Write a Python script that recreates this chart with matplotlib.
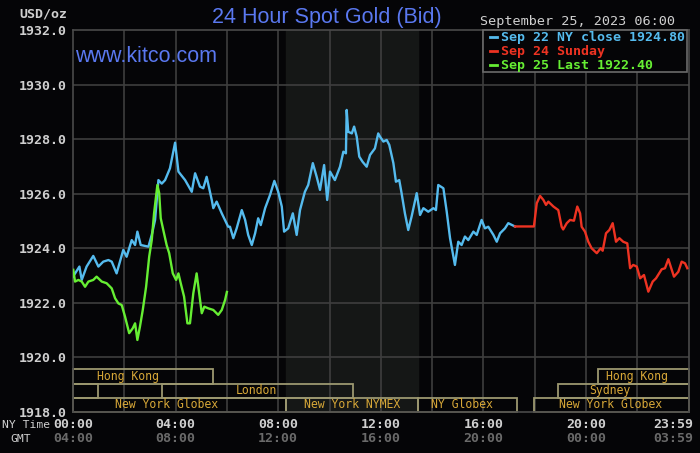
import matplotlib
matplotlib.use("Agg")
import matplotlib.pyplot as plt
from matplotlib.patches import Rectangle
from matplotlib.lines import Line2D
from matplotlib.transforms import blended_transform_factory

# ---- data (hours NY time, price USD/oz) ----
blue_t = [0.0, 0.25, 0.34, 0.53, 0.79, 0.99, 1.18, 1.38, 1.51, 1.70, 1.96, 2.09, 2.29, 2.42,
          2.51, 2.64, 2.94, 3.07, 3.20, 3.33, 3.46, 3.59, 3.78, 3.98, 4.11, 4.37, 4.63, 4.76,
          4.95, 5.08, 5.21, 5.41, 5.47, 5.60, 5.80, 6.05, 6.12, 6.25, 6.38, 6.58, 6.71, 6.83,
          6.97, 7.10, 7.22, 7.32, 7.49, 7.68, 7.85, 8.00, 8.14, 8.23, 8.39, 8.57, 8.72, 8.85,
          9.04, 9.17, 9.35, 9.50, 9.63, 9.79, 9.91, 10.02, 10.21, 10.41, 10.54, 10.64, 10.67,
          10.73, 10.87, 10.96, 11.06, 11.16, 11.29, 11.45, 11.58, 11.77, 11.90, 11.97, 12.10,
          12.23, 12.33, 12.49, 12.59, 12.72, 12.81, 12.94, 13.07, 13.20, 13.40, 13.53, 13.66,
          13.85, 14.05, 14.15, 14.24, 14.44, 14.57, 14.70, 14.89, 15.02, 15.15, 15.28, 15.41,
          15.61, 15.74, 15.93, 16.06, 16.19, 16.39, 16.52, 16.65, 16.84, 16.97, 17.23]
blue_p = [1922.96, 1923.33, 1922.84, 1923.33, 1923.72, 1923.33, 1923.51, 1923.57, 1923.51,
          1923.08, 1923.94, 1923.69, 1924.30, 1924.12, 1924.61, 1924.12, 1924.06, 1924.49,
          1925.04, 1926.50, 1926.37, 1926.50, 1926.93, 1927.87, 1926.81, 1926.50, 1926.07,
          1926.75, 1926.26, 1926.20, 1926.62, 1925.77, 1925.47, 1925.71, 1925.28, 1924.79,
          1924.79, 1924.37, 1924.73, 1925.40, 1925.04, 1924.49, 1924.12, 1924.55, 1925.10,
          1924.85, 1925.47, 1925.95, 1926.47, 1926.07, 1925.53, 1924.61, 1924.73, 1925.28,
          1924.49, 1925.40, 1926.07, 1926.32, 1927.12, 1926.62, 1926.14, 1927.05, 1925.77,
          1926.81, 1926.50, 1926.99, 1927.54, 1927.48, 1929.07, 1928.27, 1928.21, 1928.46,
          1928.09, 1927.36, 1927.17, 1926.99, 1927.42, 1927.66, 1928.21, 1928.09, 1927.91,
          1927.97, 1927.79, 1927.12, 1926.44, 1926.50, 1926.02, 1925.28, 1924.67, 1925.16,
          1926.02, 1925.22, 1925.47, 1925.34, 1925.47, 1925.40, 1926.32, 1926.20, 1925.34,
          1924.37, 1923.39, 1924.24, 1924.12, 1924.43, 1924.30, 1924.61, 1924.49, 1925.04,
          1924.73, 1924.79, 1924.49, 1924.24, 1924.55, 1924.73, 1924.92, 1924.80]

red_t = [17.23, 17.97, 18.08, 18.21, 18.34, 18.44, 18.53, 18.73, 18.92, 19.05, 19.11, 19.25,
         19.38, 19.53, 19.66, 19.77, 19.83, 19.96, 20.09, 20.22, 20.42, 20.57, 20.65, 20.78,
         20.91, 21.04, 21.17, 21.30, 21.45, 21.61, 21.72, 21.84, 21.98, 22.11, 22.26, 22.43,
         22.60, 22.73, 22.95, 23.08, 23.21, 23.43, 23.60, 23.73, 23.86, 23.95]
red_p = [1924.80, 1924.80, 1925.65, 1925.92, 1925.77, 1925.59, 1925.71, 1925.53, 1925.40,
         1924.79, 1924.69, 1924.92, 1925.04, 1925.01, 1925.53, 1925.28, 1924.79, 1924.61,
         1924.24, 1924.00, 1923.82, 1924.00, 1923.91, 1924.55, 1924.67, 1924.92, 1924.24,
         1924.37, 1924.24, 1924.18, 1923.27, 1923.39, 1923.33, 1922.90, 1923.02, 1922.41,
         1922.78, 1922.90, 1923.23, 1923.27, 1923.60, 1922.96, 1923.14, 1923.51, 1923.45,
         1923.27]

green_t = [0.01, 0.08, 0.21, 0.34, 0.47, 0.60, 0.79, 0.92, 1.12, 1.31, 1.51, 1.64, 1.77, 1.90,
           2.03, 2.19, 2.33, 2.42, 2.51, 2.61, 2.72, 2.85, 2.97, 3.07, 3.16, 3.29, 3.36, 3.42,
           3.52, 3.65, 3.75, 3.89, 4.02, 4.11, 4.20, 4.33, 4.46, 4.56, 4.69, 4.82, 4.92, 5.02,
           5.12, 5.27, 5.47, 5.66, 5.80, 5.93, 6.00]
green_p = [1923.21, 1922.78, 1922.84, 1922.78, 1922.59, 1922.78, 1922.84, 1922.96, 1922.78,
           1922.72, 1922.53, 1922.17, 1921.98, 1921.92, 1921.49, 1920.89, 1921.07, 1921.25,
           1920.64, 1921.13, 1921.74, 1922.59, 1923.69, 1924.30, 1925.28, 1926.32, 1926.02,
           1925.10, 1924.67, 1924.12, 1923.82, 1923.08, 1922.84, 1923.08, 1922.72, 1922.23,
           1921.25, 1921.25, 1922.35, 1923.08, 1922.35, 1921.62, 1921.86, 1921.80, 1921.74,
           1921.56, 1921.74, 1922.11, 1922.40]

legend_labels = ["Sep 22 NY close 1924.80", "Sep 24 Sunday", "Sep 25 Last 1922.40"]

# trading sessions: start, end, row (0 = top), label, label anchor hour
sess_start = [0.0, 20.46, 0.0, 3.47, 18.9, 0.0, 8.3, 13.45, 17.97]
sess_end = [5.46, 24.0, 0.96, 10.93, 24.0, 8.3, 13.45, 17.3, 24.0]
sess_row = [0, 0, 1, 1, 1, 2, 2, 2, 2]
sess_label = ["Hong Kong", "Hong Kong", "", "London", "Sydney",
              "New York Globex", "New York NYMEX", "NY Globex", "New York Globex"]
sess_label_at = [2.13, 22.0, 0.5, 7.16, 20.94, 3.65, 10.9, 15.18, 20.94]

ny_ticks = [0, 4, 8, 12, 16, 20]
ny_labels = ["00:00", "04:00", "08:00", "12:00", "16:00", "20:00"]
gmt_labels = ["04:00", "08:00", "12:00", "16:00", "20:00", "00:00"]
y_ticks = [1918, 1920, 1922, 1924, 1926, 1928, 1930, 1932]

# ---- style ----
BG = "#050507"
GRID = "#3e3e3e"
SHADE = "#151716"
BLUE = "#55bbee"
RED = "#ee3322"
GREEN = "#66ee33"
GOLD = "#d8a838"
BOXC = "#9c9870"
TICKC = "#d0d0d0"
MONO = "DejaVu Sans Mono"

W, H = 700, 453
fig = plt.figure(figsize=(7, 4.53), dpi=100, facecolor=BG)
ax = fig.add_axes([73 / W, 41 / H, 615.6 / W, 382 / H], facecolor=BG)
ax.set_xlim(0, 24)
ax.set_ylim(1918, 1932)

# NYMEX shade
ax.axvspan(8.3, 13.45, color=SHADE, zorder=0)

for h in range(2, 24, 2):
    ax.axvline(h, color=GRID, lw=1.2, zorder=1)
for v in range(1920, 1932, 2):
    ax.axhline(v, color=GRID, lw=1.2, zorder=1)

# session boxes
row_h = 0.52
for s, e, r, lab, la in zip(sess_start, sess_end, sess_row, sess_label, sess_label_at):
    y0 = 1918 + (2 - r) * row_h
    ax.add_patch(Rectangle((s, y0), e - s, row_h, fill=False, edgecolor=BOXC,
                           lw=1.3, zorder=2, clip_on=False))
    if lab:
        ax.text(la, y0 + row_h / 2, lab, color=GOLD, fontsize=8.3, family=MONO,
                ha="center", va="center", zorder=3)

ax.plot(blue_t, blue_p, color=BLUE, lw=1.7, zorder=4)
ax.plot(red_t, red_p, color=RED, lw=1.7, zorder=4)
ax.plot(green_t, green_p, color=GREEN, lw=1.7, zorder=5)

for sp in ax.spines.values():
    sp.set_color("#4a4a4a")
    sp.set_linewidth(1.2)

ax.set_yticks(y_ticks)
ax.set_yticklabels([f"{v:.1f}" for v in y_ticks], family=MONO, fontweight="bold",
                   fontsize=9.5, color=TICKC)
ax.set_xticks([])
ax.tick_params(axis="y", length=0, pad=4.5)

# x labels: NY time and GMT rows
tr = blended_transform_factory(ax.transData, fig.transFigure)
for h, a, b in zip(ny_ticks, ny_labels, gmt_labels):
    ax.text(h, 1 - 425 / H, a, transform=tr, ha="center", va="center", family=MONO,
            fontweight="bold", fontsize=9.5, color=TICKC)
    ax.text(h, 1 - 439 / H, b, transform=tr, ha="center", va="center", family=MONO,
            fontweight="bold", fontsize=9.5, color="#6a6a6a")
ax.text(24.17, 1 - 425 / H, "23:59", transform=tr, ha="right", va="center", family=MONO,
        fontweight="bold", fontsize=9.5, color=TICKC)
ax.text(24.17, 1 - 439 / H, "03:59", transform=tr, ha="right", va="center", family=MONO,
        fontweight="bold", fontsize=9.5, color="#6a6a6a")

fig.text(2 / W, 1 - 425 / H, "NY Time", ha="left", va="center", family=MONO,
         fontsize=8.2, color=TICKC)
fig.text(21 / W, 1 - 439 / H, "GMT", ha="center", va="center", family=MONO,
         fontsize=8.2, color=TICKC)
fig.text(67 / W, 1 - 14 / H, "USD/oz", ha="right", va="center", family=MONO,
         fontweight="bold", fontsize=9.5, color=TICKC)

# titles
fig.text(326.5 / W, 1 - 23.5 / H, "24 Hour Spot Gold (Bid)", ha="center", va="baseline",
         family="Liberation Sans", fontsize=15.5, color="#5a78f0")
fig.text(75 / W, 1 - 61.5 / H, "www.kitco.com", ha="left", va="baseline",
         family="Liberation Sans", fontsize=15.5, color="#5a78f0")
fig.text(675 / W, 1 - 21 / H, "September 25, 2023 06:00", ha="right", va="center",
         family=MONO, fontsize=9.7, color=TICKC)

# legend box
fig.patches.append(Rectangle((483 / W, 1 - 72 / H), 204 / W, 42 / H, transform=fig.transFigure,
                             facecolor=BG, edgecolor="#6a6a6a", lw=1.2, zorder=10))
for i, (lab, c) in enumerate(zip(legend_labels, [BLUE, RED, GREEN])):
    yy = 1 - (37 + i * 14) / H
    fig.add_artist(Line2D([490 / W, 497 / W], [yy, yy], color=c, lw=2, zorder=11))
    fig.text(501 / W, yy, lab, ha="left", va="center", family=MONO, fontweight="bold",
             fontsize=9.5, color=c, zorder=11)

fig.savefig("out.png", dpi=100, facecolor=BG)
